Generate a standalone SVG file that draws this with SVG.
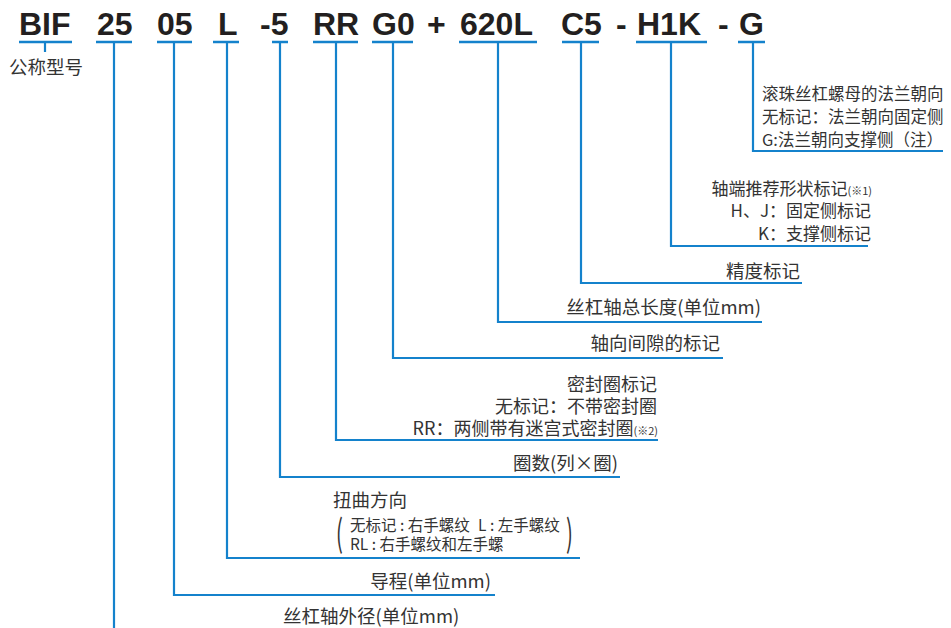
<svg xmlns="http://www.w3.org/2000/svg" width="951" height="628" viewBox="0 0 951 628">
<style>
.code{font-family:"Liberation Sans",Arial,sans-serif;font-weight:bold;font-size:32px;fill:#231f20}
.lb{font-family:"Noto Sans CJK SC","Noto Sans",sans-serif;font-size:18.5px;fill:#333}
.m{font-size:18px}
.s17{font-size:17px}
.sm{font-size:15.5px}
.tiny{font-size:11px}
.end{text-anchor:end}
.ln{fill:none;stroke:#1482cc;stroke-width:2.2}
.ul{fill:none;stroke:#1482cc;stroke-width:2.6}
</style>
<rect width="951" height="628" fill="#fff"/>
<g id="connectors">
<path class="ul" d="M19 42H72M96 42H132M157 42H192M213 42H239M272 42H288M313 42H358M372 42H413M459 42H537M562 42H599M636 42H707M738 42H765"/>
<path class="ln" d="M45 42V52"/>
<path class="ln" d="M114 42V628"/>
<path class="ln" d="M174 42V595H495"/>
<path class="ln" d="M227 42V558H580"/>
<path class="ln" d="M280 42V477H620"/>
<path class="ln" d="M336 42V440H658"/>
<path class="ln" d="M393 42V358H723"/>
<path class="ln" d="M498 42V322H762"/>
<path class="ln" d="M581 42V283H802"/>
<path class="ln" d="M671 42V246H868"/>
<path class="ln" d="M753 42V151H943"/>
</g>
<g id="n-bif"><text class="code" x="19" y="35">BIF</text><text class="lb" x="9" y="74">公称型号</text></g>
<g id="n-25"><text class="code" x="97" y="35">25</text><text class="lb" x="283" y="623">丝杠轴外径(单位mm)</text></g>
<g id="n-05"><text class="code" x="157" y="35">05</text><text class="lb end" x="491" y="588">导程(单位mm)</text></g>
<g id="n-L"><text class="code" x="218" y="35">L</text>
<text class="lb" x="333" y="507">扭曲方向</text>
<text class="lb" transform="translate(336,547) scale(0.55,1)" style="font-size:37px">(</text>
<text class="lb sm" x="350" y="531">无标记 : 右手螺纹</text>
<text class="lb sm" x="478" y="531">L : 左手螺纹</text>
<text class="lb sm" x="350" y="550">RL : 右手螺纹和左手螺</text>
<text class="lb" transform="translate(566,547) scale(0.55,1)" style="font-size:37px">)</text>
</g>
<g id="n-5"><text class="code" x="260" y="35">-5</text><text class="lb end" x="618" y="470">圈数(列×圈)</text></g>
<g id="n-RR"><text class="code" x="313" y="35">RR</text>
<text class="lb m end" x="657" y="391">密封圈标记</text>
<text class="lb m end" x="657" y="413">无标记：不带密封圈</text>
<text class="lb m end" x="658" y="435">RR：两侧带有迷宫式密封圈<tspan class="tiny">(※2)</tspan></text>
</g>
<g id="n-G0"><text class="code" x="372" y="35">G0</text><text class="lb end" x="720" y="350">轴向间隙的标记</text></g>
<g id="n-plus"><text class="code" x="427" y="35">+</text></g>
<g id="n-620L"><text class="code" x="460" y="35">620L</text><text class="lb end" x="761" y="314">丝杠轴总长度(单位mm)</text></g>
<g id="n-C5"><text class="code" x="561" y="35">C5</text><text class="lb end" x="800" y="278">精度标记</text></g>
<g id="n-dash1"><text class="code" x="616" y="35">-</text></g>
<g id="n-H1K"><text class="code" x="637" y="35">H1K</text>
<text class="lb s17 end" x="872" y="195">轴端推荐形状标记<tspan class="tiny">(※1)</tspan></text>
<text class="lb s17 end" x="871" y="217">H、J：固定侧标记</text>
<text class="lb s17 end" x="871" y="240">K：支撑侧标记</text>
</g>
<g id="n-dash2"><text class="code" x="718" y="35">-</text></g>
<g id="n-G"><text class="code" x="739" y="35">G</text>
<text class="lb" x="762" y="100" style="font-size:16.5px">滚珠丝杠螺母的法兰朝向</text>
<text class="lb" x="762" y="123" style="font-size:16.5px">无标记：法兰朝向固定侧</text>
<text class="lb" x="762" y="146" style="font-size:16.5px">G:法兰朝向支撑侧（注）</text>
</g>
</svg>
